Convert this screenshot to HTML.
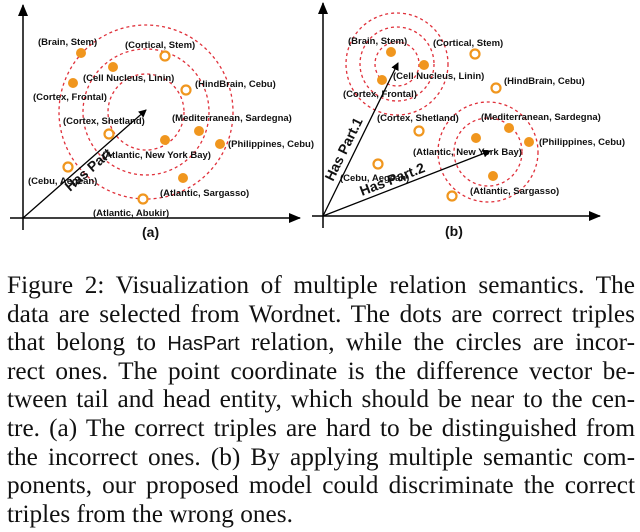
<!DOCTYPE html>
<html><head><meta charset="utf-8"><style>
body{margin:0;width:640px;height:532px;background:#fff;overflow:hidden;position:relative}
svg{position:absolute;left:0;top:0}
.cap{position:absolute;left:7px;width:628px;top:271px;font-family:"Liberation Serif",serif;font-size:25.3px;line-height:28.6px;color:#111}
.cap div{text-align:justify;text-align-last:justify;white-space:nowrap;height:28.6px}
.cap div.last{text-align-last:left}
.sf{font-family:"Liberation Sans",sans-serif;font-size:20px}
</style></head><body>
<svg width="640" height="260" viewBox="0 0 640 260" font-family="Liberation Sans,sans-serif" font-weight="bold" font-size="9.5">
<defs><marker id="ah" markerWidth="8" markerHeight="8" refX="7" refY="4" orient="auto" markerUnits="userSpaceOnUse"><path d="M0,0 L8,4 L0,8 z" fill="#000"/></marker>
<marker id="ax" markerWidth="12" markerHeight="10" refX="11" refY="5" orient="auto" markerUnits="userSpaceOnUse"><path d="M0,0 L12,5 L0,10 z" fill="#000"/></marker></defs>
<g stroke="#000" stroke-width="1.5" fill="none">
<line x1="23" y1="230" x2="23" y2="5" marker-end="url(#ax)"/>
<line x1="10" y1="218" x2="300" y2="218" marker-end="url(#ax)"/>
<line x1="323" y1="228" x2="323" y2="3" marker-end="url(#ax)"/>
<line x1="312" y1="216" x2="600" y2="216" marker-end="url(#ax)"/>
</g>
<g stroke="#e0303a" stroke-width="1.3" stroke-dasharray="3,3" fill="none">
<circle cx="146" cy="112" r="87"/><circle cx="146" cy="112" r="63"/><circle cx="146" cy="112" r="38"/>
<circle cx="397" cy="64" r="51"/><circle cx="397" cy="64" r="37"/><circle cx="397" cy="64" r="22"/>
<circle cx="488" cy="152" r="50"/><circle cx="488" cy="152" r="34"/>
</g>
<g fill="#f0961e">
<circle cx="81" cy="53" r="5"/><circle cx="113" cy="67" r="5"/><circle cx="73" cy="83" r="5"/><circle cx="199" cy="131" r="5"/><circle cx="165" cy="140" r="5"/><circle cx="220" cy="144" r="5"/><circle cx="183" cy="178" r="5"/>
<circle cx="391" cy="52" r="5"/><circle cx="424" cy="65" r="5"/><circle cx="382" cy="80" r="5"/><circle cx="509" cy="128" r="5"/><circle cx="476" cy="138" r="5"/><circle cx="529" cy="142" r="5"/><circle cx="493" cy="176" r="5"/>
</g>
<g fill="#fff" stroke="#f0961e" stroke-width="2.2">
<circle cx="165" cy="56" r="4.5"/><circle cx="186" cy="90" r="4.5"/><circle cx="109" cy="134" r="4.5"/><circle cx="68" cy="167" r="4.5"/><circle cx="143" cy="199" r="4.5"/>
<circle cx="475" cy="54" r="4.5"/><circle cx="496" cy="88" r="4.5"/><circle cx="419" cy="131" r="4.5"/><circle cx="378" cy="164" r="4.5"/><circle cx="452" cy="196" r="4.5"/>
</g>
<g fill="#111">
<text x="38" y="45">(Brain, Stem)</text><text x="125" y="48">(Cortical, Stem)</text><text x="83" y="81">(Cell Nucleus, Linin)</text><text x="195" y="87">(HindBrain, Cebu)</text><text x="33" y="100">(Cortex, Frontal)</text><text x="63" y="124">(Cortex, Shetland)</text><text x="172" y="121">(Mediterranean, Sardegna)</text><text x="102" y="158">(Atlantic, New York Bay)</text><text x="228" y="147">(Philippines, Cebu)</text><text x="28" y="184">(Cebu, Aegean)</text><text x="160" y="196">(Atlantic, Sargasso)</text><text x="93" y="216">(Atlantic, Abukir)</text>
<text x="348" y="44">(Brain, Stem)</text><text x="433" y="46">(Cortical, Stem)</text><text x="393" y="79">(Cell Nucleus, Linin)</text><text x="504" y="84">(HindBrain, Cebu)</text><text x="343" y="97">(Cortex, Frontal)</text><text x="377" y="121">(Cortex, Shetland)</text><text x="481" y="120">(Mediterranean, Sardegna)</text><text x="413" y="155">(Atlantic, New York Bay)</text><text x="539" y="145">(Philippines, Cebu)</text><text x="340" y="181">(Cebu, Aegean)</text><text x="470" y="194">(Atlantic, Sargasso)</text>
<text x="142" y="237" font-size="14">(a)</text><text x="445" y="236" font-size="14">(b)</text>
</g>
<g stroke="#000" stroke-width="1.3">
<line x1="23" y1="218" x2="146" y2="110" marker-end="url(#ah)"/>
<line x1="323" y1="216" x2="398" y2="63" marker-end="url(#ah)"/>
<line x1="323" y1="216" x2="490" y2="151" marker-end="url(#ah)"/>
</g>
<g fill="#111" font-size="14">
<text transform="translate(70,192) rotate(-41)">Has Part</text>
<text transform="translate(333,182) rotate(-64)">Has Part.1</text>
<text transform="translate(362,196) rotate(-21)">Has Part.2</text>
</g>
</svg>
<div class="cap">
<div>Figure 2: Visualization of multiple relation semantics. The</div>
<div>data are selected from Wordnet. The dots are correct triples</div>
<div>that belong to <span class="sf">HasPart</span> relation, while the circles are incor-</div>
<div>rect ones. The point coordinate is the difference vector be-</div>
<div>tween tail and head entity, which should be near to the cen-</div>
<div>tre. (a) The correct triples are hard to be distinguished from</div>
<div>the incorrect ones. (b) By applying multiple semantic com-</div>
<div>ponents, our proposed model could discriminate the correct</div>
<div class="last">triples from the wrong ones.</div>
</div>
</body></html>
